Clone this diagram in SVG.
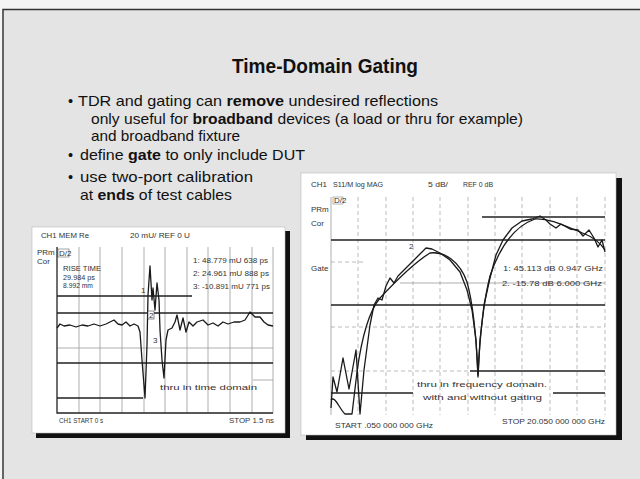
<svg xmlns="http://www.w3.org/2000/svg" width="640" height="479" viewBox="0 0 640 479">
<style>
.t{font-family:"Liberation Sans",Arial,sans-serif;fill:#111}
.b{font-weight:bold}
.s{font-family:"Liberation Sans",Arial,sans-serif;font-size:8px;fill:#333}
.g{stroke:#999;stroke-width:0.8;fill:none}
.gd{stroke:#aaa;stroke-width:0.8;fill:none;stroke-dasharray:4 3}
.k{stroke:#222;stroke-width:1.3;fill:none}
.tr{stroke:#1a1a1a;stroke-width:1.3;fill:none;stroke-linejoin:round}
</style>
<rect width="640" height="479" fill="#f4f4f4"/>
<rect x="4" y="10" width="636" height="469" fill="#e4e4e4"/>
<path d="M3,479 V9.5 H640" stroke="#333" stroke-width="1.5" fill="none"/>

<g id="title">
<text class="t b" x="232" y="73" font-size="20" textLength="186" lengthAdjust="spacingAndGlyphs">Time-Domain Gating</text>
</g>
<g id="bullets">
<text class="t" x="68" y="106" font-size="14.5">•</text>
<text class="t" x="78" y="106" font-size="14.5" textLength="360" lengthAdjust="spacingAndGlyphs">TDR and gating can <tspan class="b">remove</tspan> undesired reflections</text>
<text class="t" x="91" y="124" font-size="14.5" textLength="432" lengthAdjust="spacingAndGlyphs">only useful for <tspan class="b">broadband</tspan> devices (a load or thru for example)</text>
<text class="t" x="91" y="141" font-size="14.5" textLength="149" lengthAdjust="spacingAndGlyphs">and broadband fixture</text>
<text class="t" x="68" y="160" font-size="14.5">•</text>
<text class="t" x="80" y="160" font-size="14.5" textLength="225" lengthAdjust="spacingAndGlyphs">define <tspan class="b">gate</tspan> to only include DUT</text>
<text class="t" x="68" y="182" font-size="14.5">•</text>
<text class="t" x="80" y="182" font-size="14.5" textLength="173" lengthAdjust="spacingAndGlyphs">use two-port calibration</text>
<text class="t" x="80" y="200" font-size="14.5" textLength="152" lengthAdjust="spacingAndGlyphs">at <tspan class="b">ends</tspan> of test cables</text>
</g>

<g id="left-panel">
<rect x="36" y="231" width="254" height="207" fill="#111"/>
<rect x="32" y="227" width="253" height="206" fill="#fff" stroke="#bbb" stroke-width="0.6"/>
<text class="s" x="41" y="238" textLength="48" lengthAdjust="spacingAndGlyphs">CH1 MEM Re</text>
<text class="s" x="130" y="238" textLength="60" lengthAdjust="spacingAndGlyphs">20 mU/  REF 0 U</text>
<text class="s" x="37" y="255">PRm</text>
<text class="s" x="37" y="264" fill="#666">Cor</text>
<rect x="58" y="249" width="11" height="8" fill="#fff" stroke="#666" stroke-width="0.6"/>
<text class="s" x="59" y="256" font-size="6">D/2</text>
<g class="g">
<path d="M79,247V413M100,247V413M122,247V413M144,247V413M165,247V413M187,247V413M208,247V413M230,247V413M252,247V413M273,247V413"/>
<path d="M57,348H273M253,380H273"/>
</g>
<path class="k" d="M57,247V413H273M57,296H192M57,313H273M57,363H273M57,398H143"/>
<text class="s" x="63" y="271" textLength="38" lengthAdjust="spacingAndGlyphs">RISE TIME</text>
<text class="s" x="63" y="280" textLength="32" lengthAdjust="spacingAndGlyphs">29.984 ps</text>
<text class="s" x="63" y="288" textLength="30" lengthAdjust="spacingAndGlyphs">8.992 mm</text>
<text class="s" x="193" y="263" textLength="75" lengthAdjust="spacingAndGlyphs">1: 48.779 mU  638 ps</text>
<text class="s" x="193" y="276" textLength="76" lengthAdjust="spacingAndGlyphs">2: 24.961 mU  888 ps</text>
<text class="s" x="193" y="289" textLength="77" lengthAdjust="spacingAndGlyphs">3: -10.891 mU  771 ps</text>
<path class="tr" d="M57,328 L60,324 L64,326 L70,325 L76,327 L82,325 L88,326 L94,324 L100,326 L106,324 L110,322 L114,320 L118,324 L122,325 L126,322 L130,326 L134,324 L138,326 L140,332 L142,360 L145,398 L147,345 L148,295 L150,266 L152,300 L153,288 L155,310 L157,283 L159,300 L160,330 L162,360 L164,378 L166,340 L168,330 L172,328 L175,322 L177,315 L180,330 L183,318 L186,332 L189,322 L193,326 L197,322 L203,320 L208,325 L213,323 L218,326 L223,322 L228,324 L234,322 L240,322 L245,320 L250,312 L255,317 L260,317 L264,322 L268,325 L273,326"/>
<text class="s" x="141" y="293">1</text>
<rect x="148" y="311" width="6" height="8" fill="#fff" stroke="#444" stroke-width="0.6"/>
<text class="s" x="149" y="318" font-size="7">2</text>
<text class="s" x="153" y="343">3</text>
<text class="s" x="160" y="390" fill="#444" textLength="97" lengthAdjust="spacingAndGlyphs">thru in time domain</text>
<text class="s" x="59" y="423" textLength="44" lengthAdjust="spacingAndGlyphs">CH1 START 0 s</text>
<text class="s" x="229" y="423" textLength="45" lengthAdjust="spacingAndGlyphs">STOP 1.5 ns</text>
</g>

<g id="right-panel">
<rect x="306" y="178" width="316" height="262" fill="#111"/>
<rect x="301" y="173" width="315" height="262" fill="#fff" stroke="#bbb" stroke-width="0.6"/>
<text class="s" x="311" y="187" textLength="16" lengthAdjust="spacingAndGlyphs">CH1</text>
<text class="s" x="333" y="187" textLength="50" lengthAdjust="spacingAndGlyphs">S11/M log MAG</text>
<text class="s" x="428" y="187" textLength="20" lengthAdjust="spacingAndGlyphs">5 dB/</text>
<text class="s" x="463" y="187" textLength="30" lengthAdjust="spacingAndGlyphs">REF 0 dB</text>
<text class="s" x="311" y="212">PRm</text>
<text class="s" x="311" y="226" fill="#666">Cor</text>
<rect x="333" y="197" width="10" height="7" fill="#fff" stroke="#888" stroke-width="0.6"/>
<text class="s" x="334" y="203" font-size="5.5" fill="#777">D/2</text>
<text class="s" x="311" y="271">Gate</text>
<g class="gd">
<path d="M358,197V415M386,197V415M413,197V415M440,197V415M468,197V415M495,197V415M522,197V415M550,197V415M577,197V415M605,197V415"/>
<path d="M331,262H363M331,327H605M331,371H470"/>
</g>
<path class="g" d="M331,197V415M400,283H605"/>
<path class="k" d="M482,217H605M331,240H605M331,305H605M470,371H605M331,393H413M553,393H605"/>
<path class="tr" stroke-width="1.1" d="M331,408 L333,377 L337,392 L343,358 L349,389 L356,350 L360,414 L364,370 L370,325 L374,305 L378,298 L382,300 L386,286 L390,278 L394,283 L398,276 L404,270 L412,262 L420,254 L426,248 L432,249 L440,253 L450,260 L460,272 L467,290 L472,310 L476,340 L478,377 L480,340 L484,305 L490,278 L496,255 L503,240 L512,228 L522,221 L532,219 L540,216 L546,220 L550,224 L556,228 L561,224 L570,229 L578,230 L583,236 L589,230 L594,238 L598,247 L602,240 L605,252"/>
<path class="tr" stroke-width="1.1" d="M331,400 C335,395 340,410 345,414 L352,414 L357,372 C362,335 370,310 380,298 C395,282 415,262 430,253 C445,251 460,262 467,282 C472,300 476,330 478,375 C480,330 484,300 490,276 C500,246 515,226 535,219 C550,218 565,226 585,234 C595,238 601,244 605,250"/>
<text class="s" x="409" y="249">2</text>
<text class="s" x="503" y="271" textLength="100" lengthAdjust="spacingAndGlyphs">1:  45.113 dB   0.947 GHz</text>
<text class="s" x="502" y="286" textLength="100" lengthAdjust="spacingAndGlyphs">2. -15.78  dB   6.000 GHz</text>
<text class="s" x="417" y="387" fill="#444" textLength="130" lengthAdjust="spacingAndGlyphs">thru in frequency domain.</text>
<text class="s" x="423" y="400" fill="#444" textLength="119" lengthAdjust="spacingAndGlyphs">with and without gating</text>
<text class="s" x="335" y="428" textLength="98" lengthAdjust="spacingAndGlyphs">START  .050 000 000 GHz</text>
<text class="s" x="502" y="424" textLength="103" lengthAdjust="spacingAndGlyphs">STOP 20.050 000 000 GHz</text>
</g>
</svg>
